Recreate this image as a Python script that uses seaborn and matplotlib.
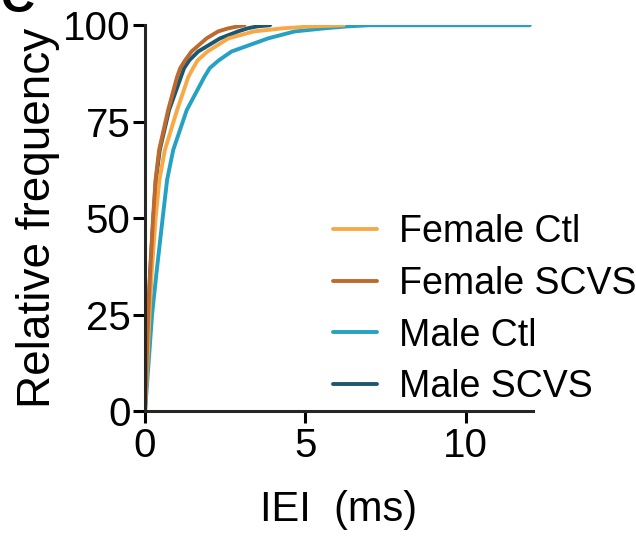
import numpy as np
import pandas as pd
import matplotlib
matplotlib.use("Agg")
import matplotlib.pyplot as plt
import seaborn as sns

sns.set_style("ticks")
plt.rcParams["font.family"] = ["Liberation Sans", "DejaVu Sans"]
plt.rcParams["text.color"] = "black"
plt.rcParams["axes.labelcolor"] = "black"

# cumulative frequency levels (%) and the IEI (ms) at which each curve reaches them
freq = [0, 10, 25, 36, 50, 60, 67.7, 78, 86.6, 88.9, 90.9, 93.2, 96.6, 98.4, 99.2, 99.7, 100, 100]
female_ctl = [0, 0.06, 0.14, 0.21, 0.33, 0.45, 0.62, 1.0, 1.35, 1.5, 1.64, 1.95, 2.6, 3.4, 4.3, 5.2, 6.2, 6.2]
female_scvs = [0, 0.04, 0.10, 0.16, 0.25, 0.33, 0.44, 0.72, 1.0, 1.1, 1.25, 1.45, 1.92, 2.28, 2.6, 2.9, 3.1, 3.1]
male_ctl = [0, 0.09, 0.22, 0.36, 0.55, 0.69, 0.88, 1.3, 1.85, 2.02, 2.3, 2.7, 3.84, 4.67, 5.6, 6.3, 7.0, 12.0]
male_scvs = [0, 0.04, 0.10, 0.16, 0.26, 0.34, 0.46, 0.75, 1.12, 1.22, 1.38, 1.66, 2.34, 2.9, 3.2, 3.5, 3.9, 3.9]

groups = ["Female Ctl", "Female SCVS", "Male Ctl", "Male SCVS"]
colors = {"Female Ctl": "#F8A947", "Female SCVS": "#BE6A2E",
          "Male Ctl": "#25A2C3", "Male SCVS": "#1A5872"}
series = {"Female Ctl": female_ctl, "Female SCVS": female_scvs,
          "Male Ctl": male_ctl, "Male SCVS": male_scvs}

df = pd.concat([pd.DataFrame({"iei": series[g], "freq": freq, "group": g}) for g in groups])

fig = plt.figure(figsize=(6.36, 5.37), dpi=100)
ax = fig.add_axes([0.228, 0.234, 0.61, 0.719])

handles = {}
for g in ["Male Ctl", "Male SCVS", "Female Ctl", "Female SCVS"]:
    sub = df[df["group"] == g]
    sns.lineplot(data=sub, x="iei", y="freq", color=colors[g], lw=2.8,
                 sort=False, estimator=None, ax=ax)
    handles[g] = ax.lines[-1]

ax.set_xlim(0, 12.1)
ax.set_ylim(0, 100)
ax.set_xticks([0, 5, 10])
ax.set_yticks([0, 25, 50, 75, 100])
ax.tick_params(labelsize=29, width=2.2, length=8.5, direction="out", pad=2, colors="black")
ax.tick_params(axis="x", pad=3)
ax.spines["left"].set_linewidth(2.2)
ax.spines["bottom"].set_linewidth(2.2)
sns.despine(ax=ax)
ax.set_xlabel("IEI  (ms)", fontsize=30, labelpad=18)
ax.set_ylabel("Relative frequency", fontsize=33, labelpad=2)

ax.legend([handles[g] for g in groups], groups, loc="upper left",
          bbox_to_anchor=(333 / 636, 1 - 214 / 537), bbox_transform=fig.transFigure,
          frameon=False, fontsize=27, borderpad=0, borderaxespad=0,
          handlelength=1.17, handletextpad=0.6, labelspacing=0.42)

fig.text(0.0, 1.0, "C", fontsize=34, fontweight="bold", va="center", ha="left")

fig.savefig("out.png", dpi=100)
